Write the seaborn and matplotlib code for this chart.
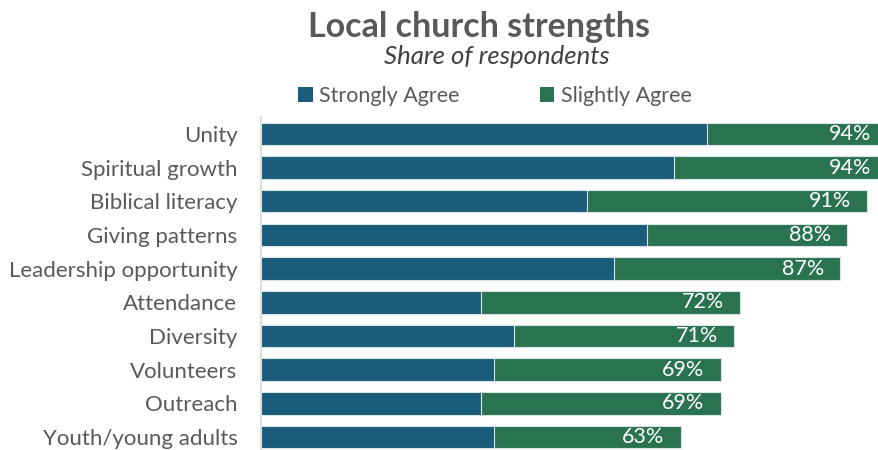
import matplotlib
matplotlib.use("Agg")
import matplotlib.pyplot as plt
import matplotlib.transforms as mtransforms
import seaborn as sns
import pandas as pd

# Survey results: share of respondents agreeing each area is a strength
categories = [
    "Unity", "Spiritual growth", "Biblical literacy", "Giving patterns",
    "Leadership opportunity", "Attendance", "Diversity", "Volunteers",
    "Outreach", "Youth/young adults",
]
strongly_agree = [67, 62, 49, 58, 53, 33, 38, 35, 33, 35]
total_agree = [94, 94, 91, 88, 87, 72, 71, 69, 69, 63]
total_labels = ["94%", "94%", "91%", "88%", "87%", "72%", "71%", "69%", "69%", "63%"]

df = pd.DataFrame({
    "category": categories,
    "strong": strongly_agree,
    "total": total_agree,
})

BLUE = "#1a5c7a"
GREEN = "#2a7350"
TEXT = "#595959"
FONT = "Lato"

sns.set_theme(style="white")
plt.rcParams["font.family"] = [FONT, "DejaVu Sans"]

fig = plt.figure(figsize=(8.79, 4.5), dpi=100)
ax = fig.add_axes([261 / 879, 0.0, 1 - 261 / 879, 1 - 117 / 450])

# Total agreement drawn first; the "strongly agree" part sits on top of it,
# so the visible green remainder is the "slightly agree" share.
sns.barplot(data=df, x="total", y="category", color=GREEN, width=0.67,
            edgecolor="#d9e2e6", linewidth=0.8, ax=ax, saturation=1,
            label="Slightly Agree")
sns.barplot(data=df, x="strong", y="category", color=BLUE, width=0.67,
            edgecolor="#d9e2e6", linewidth=0.8, ax=ax, saturation=1,
            label="Strongly Agree")
if ax.get_legend() is not None:
    ax.get_legend().remove()

ax.set_xlim(0, 92.8)
ax.set_ylim(9.386, -0.5)
ax.set_xlabel("")
ax.set_ylabel("")
ax.set_xticks([])
for side in ["top", "right", "bottom"]:
    ax.spines[side].set_visible(False)
ax.spines["left"].set_color("#d9d9d9")
ax.spines["left"].set_linewidth(1.2)
ax.tick_params(axis="y", length=0, pad=17, labelsize=16, labelcolor=TEXT)

# Totals shown inside the end of each bar
shift = mtransforms.offset_copy(ax.transData, fig=fig, x=-16, y=0, units="dots")
for i, (tot, lab) in enumerate(zip(total_agree, total_labels)):
    ax.text(tot, i, lab, transform=shift, ha="right", va="center",
            color="white", fontsize=15.5, clip_on=False)

fig.text(479 / 879, 1 - 27 / 450, "Local church strengths", ha="center",
         va="center", fontsize=24.5, fontweight="bold", color=TEXT)
fig.text(497 / 879, 1 - 56 / 450, "Share of respondents", ha="center",
         va="center", fontsize=18.5, fontstyle="italic", color="#404040")

handles, labels = ax.get_legend_handles_labels()
order = [labels.index("Strongly Agree"), labels.index("Slightly Agree")]
leg = fig.legend([handles[k] for k in order], [labels[k] for k in order],
                 loc="center", bbox_to_anchor=(495 / 879, 1 - 96 / 450),
                 ncol=2, frameon=False, fontsize=15.5, handlelength=0.68,
                 handleheight=0.68, handletextpad=0.3, columnspacing=3.7)
for t in leg.get_texts():
    t.set_color(TEXT)
for h in leg.legend_handles:
    h.set_edgecolor("none")

fig.savefig("out.png", dpi=100)
